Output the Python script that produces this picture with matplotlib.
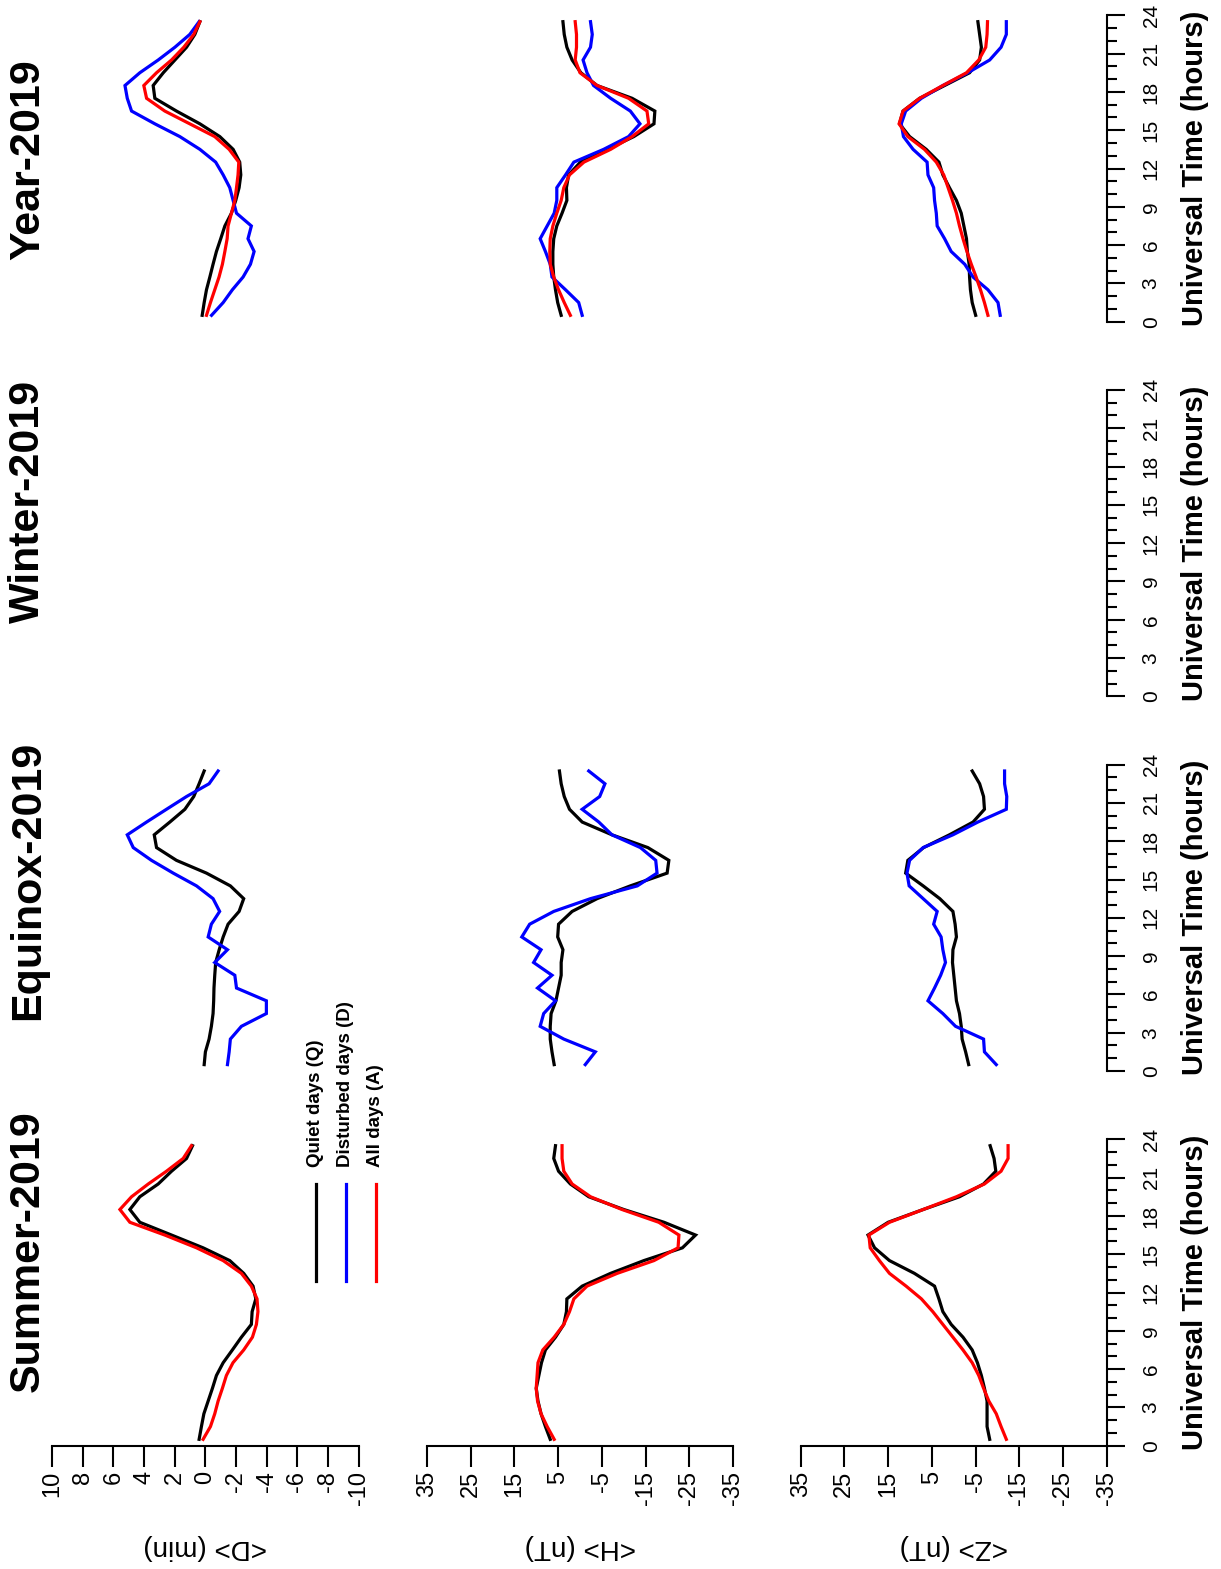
import matplotlib
matplotlib.use("Agg")
import matplotlib.pyplot as plt
from matplotlib.lines import Line2D
from matplotlib.ticker import FixedLocator

plt.rcParams['font.family'] = ['Liberation Sans', 'DejaVu Sans']
plt.rcParams['axes.unicode_minus'] = False

# ---------------------------------------------------------------- data
hours = [0.5, 1.5, 2.5, 3.5, 4.5, 5.5, 6.5, 7.5, 8.5, 9.5, 10.5, 11.5,
         12.5, 13.5, 14.5, 15.5, 16.5, 17.5, 18.5, 19.5, 20.5, 21.5, 22.5, 23.5]

seasons = ["Summer-2019", "Equinox-2019", "Winter-2019", "Year-2019"]
components = ["<D> (min)", "<H> (nT)", "<Z> (nT)"]
legend_labels = ["Quiet days (Q)", "Disturbed days (D)", "All days (A)"]

d_ticks = [10, 8, 6, 4, 2, 0, -2, -4, -6, -8, -10]
hz_ticks = [35, 25, 15, 5, -5, -15, -25, -35]
ut_ticks = [0, 3, 6, 9, 12, 15, 18, 21, 24]

# Summer
summer_D_Q = [0.41, 0.26, 0.10, -0.18, -0.46, -0.72, -1.16, -1.76, -2.35, -3.0, -3.05, -3.29,
              -3.11, -2.50, -1.59, 0.15, 2.21, 4.28, 4.93, 4.28, 3.08, 2.21, 1.23, 0.84]
summer_D_A = [0.15, -0.33, -0.61, -0.83, -1.11, -1.37, -1.80, -2.50, -3.07, -3.33, -3.43, -3.37,
              -3.0, -2.35, -1.16, 0.58, 2.65, 4.93, 5.58, 4.82, 3.73, 2.54, 1.45, 0.91]
summer_H_Q = [6.8, 7.9, 8.9, 9.6, 10.0, 9.4, 8.8, 7.9, 5.6, 3.7, 3.1, 3.0,
              -0.5, -7.0, -14.6, -23.4, -26.4, -19.2, -10.0, -2.0, 2.2, 4.9, 6.0, 5.6]
summer_H_A = [5.9, 7.5, 8.9, 9.7, 10.0, 9.8, 9.6, 8.5, 5.9, 3.7, 2.4, 1.4,
              -1.6, -8.5, -16.9, -22.4, -22.6, -18.0, -9.6, -2.4, 1.8, 3.7, 4.1, 4.1]
summer_Z_Q = [-8.2, -7.6, -7.6, -7.6, -7.0, -6.3, -5.4, -4.2, -2.1, 0.6, 2.5, 3.4,
              4.4, 9.0, 14.7, 18.1, 19.6, 15.0, 7.0, -1.3, -6.8, -9.6, -9.2, -8.3]
summer_Z_A = [-12.0, -10.8, -9.7, -8.0, -6.8, -5.7, -4.2, -2.1, 0.2, 2.5, 4.8, 7.4,
              10.9, 14.7, 17.0, 19.1, 19.4, 14.7, 7.0, -0.6, -7.0, -10.8, -12.4, -12.4]

# Equinox
equinox_D_Q = [0.08, 0.0, -0.24, -0.39, -0.50, -0.54, -0.56, -0.61, -0.67, -0.90, -1.16, -1.48,
               -2.20, -2.50, -1.63, -0.07, 1.89, 3.19, 3.34, 2.32, 1.34, 0.76, 0.41, 0.08]
equinox_D_D = [-1.44, -1.55, -1.63, -2.35, -3.98, -3.98, -2.03, -1.92, -0.61, -1.44, -0.18, -0.39,
               -0.93, -0.50, 0.58, 2.10, 3.52, 4.71, 5.10, 3.84, 2.54, 1.23, -0.24, -0.83]
equinox_H_Q = [5.9, 6.4, 6.8, 6.8, 6.6, 5.5, 4.9, 4.3, 4.3, 3.9, 5.1, 4.9,
               1.8, -3.9, -11.5, -19.9, -20.3, -15.5, -7.3, -0.5, 2.4, 3.6, 4.3, 4.7]
equinox_H_D = [-1.2, -3.5, 3.7, 9.1, 8.3, 5.6, 9.7, 6.4, 10.6, 8.9, 13.3, 11.5,
               6.0, -2.4, -13.1, -17.6, -17.3, -13.8, -7.3, -4.3, -0.5, -4.5, -5.7, -2.0]
equinox_Z_Q = [-3.4, -2.7, -1.9, -1.7, -1.3, -0.6, -0.3, 0.0, 0.3, 0.2, -0.6, -0.3,
               0.2, 3.2, 7.0, 11.0, 10.5, 6.9, 1.0, -4.4, -7.0, -6.8, -5.9, -4.2]
equinox_Z_D = [-9.7, -7.0, -6.8, -0.4, 2.5, 5.9, 4.4, 3.0, 1.9, 2.5, 2.9, 4.6,
               3.8, 7.0, 10.2, 10.7, 10.1, 7.0, 0.2, -5.5, -12.0, -12.1, -11.6, -11.6]

# Year
year_D_Q = [0.21, 0.08, -0.07, -0.29, -0.50, -0.72, -1.0, -1.27, -1.7, -1.98, -2.2, -2.31,
            -2.24, -1.81, -0.94, 0.36, 1.89, 3.30, 3.41, 2.75, 1.99, 1.23, 0.69, 0.36]
year_D_D = [-0.40, -1.16, -1.76, -2.46, -2.94, -3.18, -2.78, -3.0, -2.03, -1.81, -1.59, -1.16,
            -0.67, 0.36, 1.67, 3.30, 4.82, 5.10, 5.25, 4.28, 3.08, 1.99, 1.02, 0.41]
year_D_A = [-0.07, -0.33, -0.61, -0.89, -1.11, -1.27, -1.42, -1.48, -1.7, -1.92, -2.03, -2.13,
            -2.18, -1.55, -0.61, 1.02, 2.65, 3.84, 4.02, 3.19, 2.21, 1.41, 0.76, 0.36]
year_H_Q = [4.3, 5.1, 5.6, 6.0, 6.2, 6.2, 6.0, 5.3, 4.1, 3.0, 3.1, 2.6,
            -0.1, -6.2, -12.3, -16.9, -17.1, -11.9, -3.9, -0.2, 1.8, 3.0, 3.6, 3.9]
year_H_D = [-0.5, 0.3, 3.3, 6.4, 6.8, 7.9, 9.1, 7.5, 5.9, 5.3, 5.3, 3.3,
            1.4, -5.4, -11.1, -13.7, -11.5, -7.0, -3.1, -1.6, -0.7, -2.4, -2.8, -2.4]
year_H_A = [2.2, 3.6, 4.9, 6.0, 6.8, 6.9, 6.8, 6.2, 5.3, 4.3, 3.7, 2.4,
            -0.9, -7.0, -11.9, -15.7, -15.3, -11.1, -3.9, 0.0, 1.1, 0.8, 0.8, 1.1]
year_Z_Q = [-5.0, -4.2, -3.8, -3.6, -3.5, -3.1, -2.9, -2.3, -1.7, -0.6, 1.0, 2.5,
            3.4, 6.3, 10.1, 12.4, 11.6, 7.8, 2.1, -3.6, -5.9, -6.3, -5.9, -5.5]
year_Z_D = [-10.6, -10.1, -7.8, -4.4, -2.5, 0.6, 2.1, 3.8, 4.0, 4.4, 4.6, 5.9,
            6.1, 9.3, 11.5, 12.0, 11.0, 7.4, 2.5, -3.2, -8.2, -10.8, -12.0, -12.0]
year_Z_A = [-7.8, -7.0, -6.1, -5.1, -4.0, -3.0, -2.1, -1.3, -0.6, 0.3, 1.3, 2.3,
            4.0, 6.7, 10.5, 12.5, 11.6, 7.8, 2.5, -2.9, -5.7, -7.3, -7.6, -7.7]

# (season index, component index) -> list of (series, colour)
panels = {
    (0, 0): [(summer_D_Q, "black"), (summer_D_A, "red")],
    (0, 1): [(summer_H_Q, "black"), (summer_H_A, "red")],
    (0, 2): [(summer_Z_Q, "black"), (summer_Z_A, "red")],
    (1, 0): [(equinox_D_Q, "black"), (equinox_D_D, "blue")],
    (1, 1): [(equinox_H_Q, "black"), (equinox_H_D, "blue")],
    (1, 2): [(equinox_Z_Q, "black"), (equinox_Z_D, "blue")],
    (3, 0): [(year_D_Q, "black"), (year_D_D, "blue"), (year_D_A, "red")],
    (3, 1): [(year_H_Q, "black"), (year_H_D, "blue"), (year_H_A, "red")],
    (3, 2): [(year_Z_Q, "black"), (year_Z_D, "blue"), (year_Z_A, "red")],
}
value_ticks = [d_ticks, hz_ticks, hz_ticks]

# ---------------------------------------------------------------- layout (pixels)
W, H = 1221, 1569
fig = plt.figure(figsize=(W / 100, H / 100), dpi=100)

col_bottom = [1445.7, 1071.0, 696.3, 321.7]   # UT = 0 edge of each season
panel_h = 306.4
row_left = [52.2, 426.8, 800.6]               # value-axis maximum edge of each component
panel_w = 306.4


def fx(x):
    return x / W


def fy(y):
    return 1 - y / H


LW = 2.3
SPINE_LW = 1.5

for s in range(4):
    for c in range(3):
        ax = fig.add_axes([fx(row_left[c]), fy(col_bottom[s]), panel_w / W, panel_h / H])
        ax.patch.set_visible(False)
        ticks = value_ticks[c]
        ax.set_xlim(max(ticks), min(ticks))
        ax.set_ylim(0, 24)
        for side in ("top", "left", "bottom", "right"):
            ax.spines[side].set_visible(False)
            ax.spines[side].set_linewidth(SPINE_LW)

        for series, colour in panels.get((s, c), []):
            ax.plot(series, hours, color=colour, lw=LW, clip_on=False,
                    solid_joinstyle="miter")

        # value axis only along the first season
        if s == 0:
            ax.spines["bottom"].set_visible(True)
            ax.set_xticks(ticks)
            ax.set_xticklabels([str(t) for t in ticks])
            ax.tick_params(axis="x", direction="out", length=15, width=SPINE_LW,
                           pad=3, labelsize=17, labelrotation=90)
            for lab in ax.get_xticklabels():
                lab.set_va("top")
                lab.set_ha("center")
        else:
            ax.set_xticks([])

        # UT axis only along the last component
        if c == 2:
            ax.spines["right"].set_visible(True)
            ax.yaxis.tick_right()
            ax.yaxis.set_major_locator(FixedLocator(ut_ticks))
            ax.yaxis.set_minor_locator(FixedLocator(list(range(25))))
            ax.set_yticklabels([str(t) for t in ut_ticks])
            ax.tick_params(axis="y", which="major", direction="out", length=13,
                           width=SPINE_LW, pad=12, labelsize=15, labelrotation=90)
            ax.tick_params(axis="y", which="minor", direction="out", length=7,
                           width=SPINE_LW)
            for lab in ax.get_yticklabels():
                lab.set_va("center")
                lab.set_ha("left")
        else:
            ax.set_yticks([])

# season titles
title_centre = [1251, 880, 501, 160]
for s, name in enumerate(seasons):
    fig.text(fx(28), fy(title_centre[s]), name, rotation=90, fontsize=31,
             fontweight="bold", ha="center", va="center")
    fig.text(fx(1195), fy(col_bottom[s] - panel_h / 2), "Universal Time (hours)",
             rotation=90, fontsize=21, fontweight="bold", ha="center", va="center")

# component labels (along the value axes)
for c, name in enumerate(components):
    fig.text(fx(row_left[c] + panel_w / 2), fy(1547), name, rotation=180,
             fontsize=20, ha="center", va="center")

# legend
legend_x = [315.7, 345.7, 375.7]
legend_colours = ["black", "blue", "red"]
for x, colour, label in zip(legend_x, legend_colours, legend_labels):
    fig.add_artist(Line2D([fx(x), fx(x)], [fy(1184), fy(1281)], color=colour,
                          lw=LW, transform=fig.transFigure))
    fig.text(fx(x), fy(1166.7), label, rotation=90, fontsize=13.5,
             fontweight="bold", ha="center", va="bottom")

fig.savefig("out.png", dpi=100)
